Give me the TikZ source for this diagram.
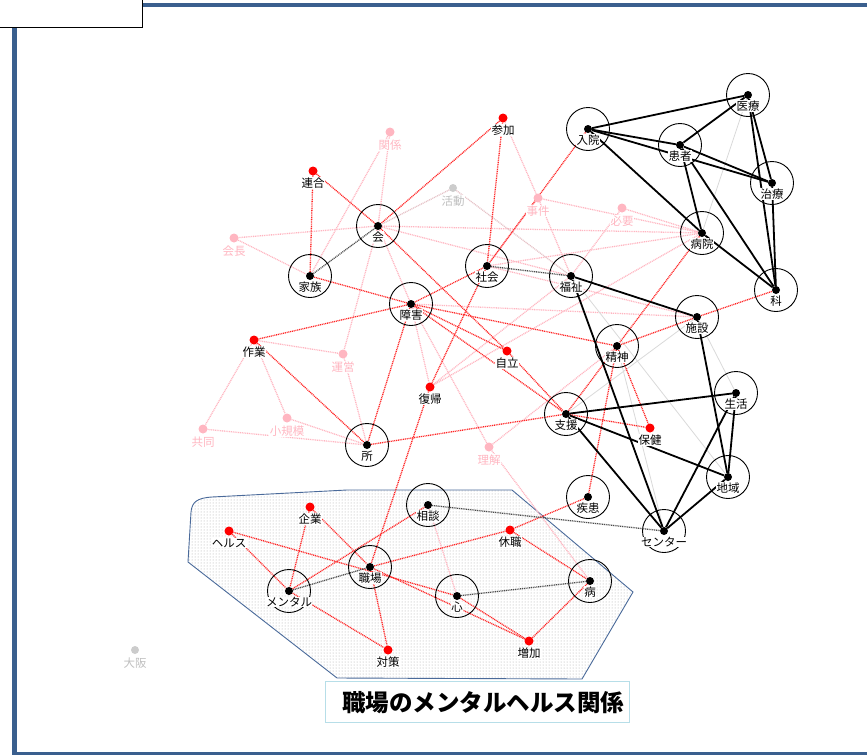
\documentclass[tikz,border=0pt]{standalone}
\usepackage{fontspec}
\newfontfamily\cjk{Noto Sans CJK JP}
\usetikzlibrary{calc,patterns}
\definecolor{frameblue}{HTML}{3A5F8E}
\definecolor{polyblue}{HTML}{4A6A9A}
\definecolor{pinkc}{HTML}{FFB6C1}
\definecolor{graydot}{HTML}{CCCCCC}
\definecolor{boxcyan}{HTML}{B7DEE8}
\pgfdeclarelayer{poly}
\pgfdeclarelayer{edges}
\pgfsetlayers{poly,edges,main}
\tikzset{
 bdot/.style={circle,fill=black,inner sep=0,minimum size=8pt},
 ring/.style={circle,draw=black,line width=0.9pt,inner sep=0,minimum size=43pt},
 rdot/.style={circle,fill=red,inner sep=0,minimum size=9pt},
 pdot/.style={circle,fill=pinkc,inner sep=0,minimum size=9pt},
 gdot/.style={circle,fill=graydot,inner sep=0,minimum size=8pt},
 lbl/.style={font=\cjk\fontsize{11.5}{11.5}\selectfont,fill=white,inner sep=0.3pt,text=black},
 plbl/.style={lbl,text=pinkc},
 glbl/.style={lbl,text=black!25},
 strong/.style={line width=1.8pt,black},
 weak/.style={line width=0.8pt,black!15},
 reded/.style={red!85,line width=1.3pt,dash pattern=on 1pt off 0.8pt},
 pinked/.style={pinkc,line width=1.3pt,dash pattern=on 1pt off 0.8pt},
 grayped/.style={pinkc!50!graydot,line width=1.3pt,dash pattern=on 1pt off 0.8pt},
 grayed/.style={black!70,line width=1.3pt,dash pattern=on 1pt off 0.8pt},
}
\newcommand\BN[4]{\node[bdot](#1) at (#2,#3){}; \node[ring] (#1-r) at (#1){}; \node[lbl](#1-t) at ($(#1)+(0,11)$){#4};}
\newcommand\RN[4]{\node[rdot](#1) at (#2,#3){}; \node[lbl](#1-t) at ($(#1)+(0,12)$){#4};}
\newcommand\PN[4]{\node[pdot](#1) at (#2,#3){}; \node[plbl](#1-t) at ($(#1)+(0,13)$){#4};}
\newcommand\GN[4]{\node[gdot](#1) at (#2,#3){}; \node[glbl](#1-t) at ($(#1)+(0,13)$){#4};}
\begin{document}
\begin{tikzpicture}[x=1pt,y=-1pt]
\useasboundingbox (0,0) rectangle (867,755);
% frame
\draw[frameblue,line width=4pt] (142,5) -- (867,5);
\draw[frameblue,line width=5pt] (14.5,27) -- (14.5,755);
\draw[frameblue,line width=3pt] (13,753) -- (867,753);
\draw[black,fill=white,line width=1pt] (-2,-2) rectangle (142,27);
% shaded region
\begin{pgfonlayer}{poly}
\draw[polyblue,line width=0.9pt,pattern=dots,pattern color=black!35]
 (191,512) -- (188,562) -- (337,678) -- (582,679) -- (633,592) -- (512,490) -- (347,490) -- (212,497) .. controls (197,498) and (192,502) .. cycle;
\end{pgfonlayer}
% black nodes
\BN{kai}{378}{226}{会}
\BN{kazoku}{310}{276}{家族}
\BN{shakai}{487}{266}{社会}
\BN{shogai}{411}{304}{障害}
\BN{fukushi}{571}{276}{福祉}
\BN{nyuin}{588}{129}{入院}
\BN{iryo}{748}{95}{医療}
\BN{kanja}{680}{145}{患者}
\BN{chiryo}{772}{183}{治療}
\BN{byoin}{702}{233}{病院}
\BN{ka}{776}{290}{科}
\BN{shisetsu}{697}{317}{施設}
\BN{seishin}{617}{346}{精神}
\BN{seikatsu}{736}{393}{生活}
\BN{shien}{566}{414}{支援}
\BN{sho}{367}{445}{所}
\BN{chiiki}{728}{477}{地域}
\BN{shikkan}{588}{497}{疾患}
\BN{center}{664}{531}{センター}
\BN{sodan}{428}{505}{相談}
\BN{shokuba}{370}{567}{職場}
\BN{mental}{289}{591}{メンタル}
\BN{kokoro}{457}{596}{心}
\BN{yamai}{590}{581}{病}
% red nodes
\RN{sanka}{503}{118}{参加}
\RN{rengo}{313}{171}{連合}
\RN{sagyo}{254}{340}{作業}
\RN{jiritsu}{507}{351}{自立}
\RN{fukki}{430}{387}{復帰}
\RN{hoken}{650}{428}{保健}
\RN{kigyo}{310}{507}{企業}
\RN{health}{229}{531}{ヘルス}
\RN{kyushoku}{510}{530}{休職}
\RN{taisaku}{388}{650}{対策}
\RN{zoka}{529}{641}{増加}
% pink nodes
\PN{kankei}{390}{132}{関係}
\PN{kaicho}{234}{238}{会長}
\PN{jiken}{538}{198}{事件}
\PN{hitsuyo}{622}{208}{必要}
\PN{unei}{343}{354}{運営}
\PN{shokibo}{287}{418}{小規模}
\PN{kyodo}{203}{429}{共同}
\PN{rikai}{489}{447}{理解}
% gray nodes
\GN{katsudo}{453}{188}{活動}
\GN{osaka}{135}{650}{大阪}
% edges
\begin{pgfonlayer}{edges}
% pink
\foreach \a/\b in {kankei/kai,kankei/kazoku,kaicho/kai,kaicho/kazoku,sanka/jiken,jiken/fukushi,jiken/byoin,jiken/shakai,hitsuyo/byoin,hitsuyo/fukushi,kai/fukushi,kai/byoin,kai/unei,kai/shogai,shogai/shisetsu,shakai/shisetsu,shakai/byoin,shogai/rikai,shogai/fukki,sagyo/unei,sagyo/shokibo,sagyo/kyodo,kyodo/sho,shokibo/sho,unei/sho,rikai/seishin,rikai/yamai,fukushi/fukki,fukki/byoin,sodan/kokoro}
 \draw[pinked] (\a) -- (\b);
\foreach \a/\b in {katsudo/kai,katsudo/fukushi}
 \draw[grayped] (\a) -- (\b);
% weak gray
\foreach \a/\b in {iryo/byoin,shisetsu/seikatsu,shisetsu/shien,seishin/center,fukushi/chiiki}
 \draw[weak] (\a) -- (\b);
% red
\foreach \a/\b in {rengo/kazoku,rengo/kai,sanka/kai,sanka/shakai,nyuin/shakai,shakai/fukki,fukki/shokuba,kazoku/shogai,kai/jiritsu,shogai/shakai,shogai/sagyo,shogai/sho,shogai/seishin,shogai/shien,shogai/jiritsu,jiritsu/shien,sagyo/sho,sho/shien,seishin/shisetsu,shisetsu/ka,byoin/seishin,seishin/shien,seishin/shikkan,seishin/hoken,shien/hoken,shikkan/kyushoku,kyushoku/shokuba,kyushoku/yamai,yamai/zoka,kokoro/zoka,shokuba/zoka,health/mental,health/kokoro,kigyo/mental,kigyo/shokuba,shokuba/taisaku,mental/taisaku,mental/sodan}
 \draw[reded] (\a) -- (\b);
% dark dotted
\foreach \a/\b in {kazoku/kai,shakai/fukushi,sodan/center,mental/shokuba,kokoro/yamai}
 \draw[grayed] (\a) -- (\b);
% strong black
\foreach \a/\b in {nyuin/iryo,nyuin/kanja,nyuin/chiryo,nyuin/byoin,iryo/kanja,iryo/chiryo,iryo/ka,chiryo/ka,kanja/chiryo,kanja/byoin,kanja/ka,byoin/ka,fukushi/shisetsu,fukushi/center,shisetsu/chiiki,shien/seikatsu,shien/chiiki,shien/center,seikatsu/center,seikatsu/chiiki,chiiki/center}
 \draw[strong] (\a) -- (\b);
\end{pgfonlayer}
% title
\node[draw=boxcyan,line width=0.8pt,minimum width=304pt,minimum height=41pt,inner sep=0] (titlebox) at (477,701.5) {};
\node[font=\cjk\bfseries\fontsize{23.5}{23.5}\selectfont,inner sep=0] (title) at (483,703) {職場のメンタルヘルス関係};
\end{tikzpicture}
\end{document}
